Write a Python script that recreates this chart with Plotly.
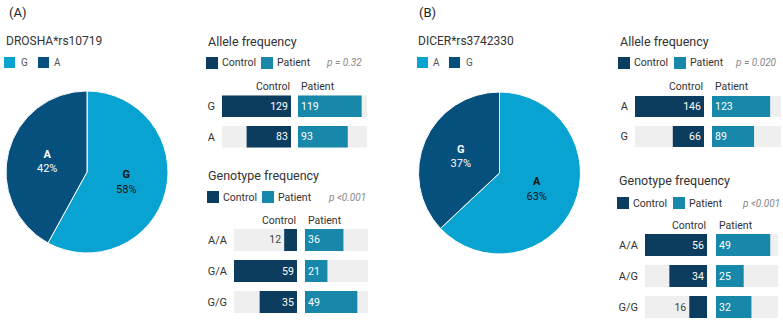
import plotly.graph_objects as go

# ---------------- data ----------------
left_pie_title = "DROSHA*rs10719"
left_pie_labels = ["G", "A"]
left_pie_values = [58, 42]

right_pie_title = "DICER*rs3742330"
right_pie_labels = ["A", "G"]
right_pie_values = [63, 37]

left_allele_cats = ["G", "A"]
left_allele_control = [129, 83]
left_allele_patient = [119, 93]
left_allele_p = "p = 0.32"

left_geno_cats = ["A/A", "G/A", "G/G"]
left_geno_control = [12, 59, 35]
left_geno_patient = [36, 21, 49]
left_geno_p = "p <0.001"

right_allele_cats = ["A", "G"]
right_allele_control = [146, 66]
right_allele_patient = [123, 89]
right_allele_p = "p = 0.020"

right_geno_cats = ["A/A", "A/G", "G/G"]
right_geno_control = [56, 34, 16]
right_geno_patient = [49, 25, 32]
right_geno_p = "p <0.001"

# ---------------- style ----------------
W, H = 783, 325
FONT = "Roboto"
CTRL = "#0d3d5e"
PAT = "#1787aa"
BG = "#efefef"
PIE_LIGHT = "#09a3d2"
PIE_DARK = "#06507d"
TXT = "#333333"


def fx(x):
    return x / W


def fy(y):
    return 1 - y / H


fig = go.Figure()
annotations = []
shapes = []


def ann(text, x, y, size=10, color=TXT, xanchor="left", italic=False, bold=False):
    t = text
    if bold:
        t = "<b>" + t + "</b>"
    if italic:
        t = "<i>" + t + "</i>"
    annotations.append(dict(text=t, x=fx(x), y=fy(y), xref="paper", yref="paper",
                            xanchor=xanchor, yanchor="middle", showarrow=False,
                            font=dict(family=FONT, size=size, color=color)))


def square(x0, y0, size, color):
    shapes.append(dict(type="rect", xref="paper", yref="paper",
                       x0=fx(x0), x1=fx(x0 + size), y0=fy(y0 + size), y1=fy(y0),
                       fillcolor=color, line=dict(width=0)))


# ---------------- pies ----------------
pies = [
    dict(labels=left_pie_labels, values=left_pie_values, cx=87, cy=172, r=81,
         colors=[PIE_LIGHT, PIE_DARK], tcolors=["#111111", "#ffffff"]),
    dict(labels=right_pie_labels, values=right_pie_values, cx=499.5, cy=173, r=81,
         colors=[PIE_LIGHT, PIE_DARK], tcolors=["#111111", "#ffffff"]),
]
for p in pies:
    fig.add_trace(go.Pie(
        labels=p["labels"], values=p["values"], sort=False, direction="clockwise",
        rotation=0,
        marker=dict(colors=p["colors"], line=dict(color="white", width=1)),
        texttemplate="<b>%{label}</b><br>%{percent:.0%}",
        textposition="inside", insidetextorientation="horizontal",
        textfont=dict(family=FONT, size=11, color=p["tcolors"]),
        domain=dict(x=[fx(p["cx"] - p["r"]), fx(p["cx"] + p["r"])],
                    y=[fy(p["cy"] + p["r"]), fy(p["cy"] - p["r"])]),
        showlegend=False, hoverinfo="label+percent",
    ))

# panel labels & pie titles & pie legends
ann("(A)", 7, 12, size=13, color="#222222")
ann("(B)", 417, 12, size=13, color="#222222")
ann(left_pie_title, 4, 41, size=12)
ann(right_pie_title, 416, 41, size=12)

square(4, 57, 11, PIE_LIGHT)
ann(left_pie_labels[0], 19, 62.5, size=10, color="#555555")
square(38, 57, 11, PIE_DARK)
ann(left_pie_labels[1], 52, 62.5, size=10, color="#555555")

square(417, 57, 11, PIE_LIGHT)
ann(right_pie_labels[0], 431, 62.5, size=10, color="#555555")
square(449, 57, 11, PIE_DARK)
ann(right_pie_labels[1], 464, 62.5, size=10, color="#555555")

# ---------------- bar panels ----------------
panels = [
    dict(title="Allele frequency", cats=left_allele_cats, ctrl=left_allele_control,
         pat=left_allele_patient, pval=left_allele_p,
         cxr=(222, 291), pxr=(298, 367), yr=(91, 152), width=0.7,
         tx=206, ty=41, ly=57, lc=206, lp=261, pright=364, hy=86),
    dict(title="Genotype frequency", cats=left_geno_cats, ctrl=left_geno_control,
         pat=left_geno_patient, pval=left_geno_p,
         cxr=(234, 297), pxr=(305, 368), yr=(224.5, 317.5), width=0.71,
         tx=206, ty=175, ly=191, lc=207, lp=262, pright=368, hy=220),
    dict(title="Allele frequency", cats=right_allele_cats, ctrl=right_allele_control,
         pat=right_allele_patient, pval=right_allele_p,
         cxr=(635, 704), pxr=(712, 781), yr=(91.5, 151.5), width=0.7,
         tx=618, ty=41, ly=57, lc=618, lp=674, pright=779, hy=86),
    dict(title="Genotype frequency", cats=right_geno_cats, ctrl=right_geno_control,
         pat=right_geno_patient, pval=right_geno_p,
         cxr=(645, 707), pxr=(716, 778), yr=(229.5, 322.5), width=0.71,
         tx=617, ty=180, ly=197, lc=617, lp=673, pright=782, hy=225),
]

layout_axes = {}
for i, p in enumerate(panels):
    nc = 2 * i + 1
    npat = 2 * i + 2
    xc = "x" if nc == 1 else f"x{nc}"
    yc = "y" if nc == 1 else f"y{nc}"
    xp = f"x{npat}"
    yp = f"y{npat}"
    vmax = max(max(p["ctrl"]), max(p["pat"]))
    n = len(p["cats"])
    w = p["width"]

    for vals, xa, ya, color, is_ctrl in [(p["ctrl"], xc, yc, CTRL, True),
                                         (p["pat"], xp, yp, PAT, False)]:
        fig.add_trace(go.Bar(y=p["cats"], x=[vmax] * n, orientation="h",
                             marker=dict(color=BG, line=dict(width=0)), width=w,
                             xaxis=xa, yaxis=ya, hoverinfo="skip", showlegend=False))
        pos = ["inside" if v >= 0.3 * vmax else "outside" for v in vals]
        fig.add_trace(go.Bar(
            y=p["cats"], x=vals, orientation="h",
            marker=dict(color=color, line=dict(width=0)), width=w,
            text=[str(v) for v in vals], textposition=pos,
            insidetextanchor="start", constraintext="none", cliponaxis=False,
            insidetextfont=dict(family=FONT, size=10.5, color="white"),
            outsidetextfont=dict(family=FONT, size=10.5, color="#444444"),
            xaxis=xa, yaxis=ya, showlegend=False,
            name="Control" if is_ctrl else "Patient",
        ))

    kx = "xaxis" if nc == 1 else f"xaxis{nc}"
    ky = "yaxis" if nc == 1 else f"yaxis{nc}"
    ydom = [fy(p["yr"][1]), fy(p["yr"][0])]
    layout_axes[kx] = dict(domain=[fx(p["cxr"][0]), fx(p["cxr"][1])], range=[vmax, 0],
                           anchor=yc, visible=False, fixedrange=True)
    layout_axes[ky] = dict(domain=ydom, anchor=xc, type="category",
                           categoryorder="array", categoryarray=p["cats"],
                           autorange="reversed", showgrid=False, zeroline=False,
                           showline=False, ticks="", ticklabelstandoff=6,
                           tickfont=dict(family=FONT, size=11, color="#333333"),
                           fixedrange=True)
    layout_axes[f"xaxis{npat}"] = dict(domain=[fx(p["pxr"][0]), fx(p["pxr"][1])],
                                       range=[0, vmax], anchor=yp, visible=False,
                                       fixedrange=True)
    layout_axes[f"yaxis{npat}"] = dict(domain=ydom, anchor=xp, type="category",
                                       categoryorder="array", categoryarray=p["cats"],
                                       autorange="reversed", visible=False,
                                       fixedrange=True)

    # title, legend, p-value, column headers
    ann(p["title"], p["tx"], p["ty"], size=12.5, color="#333333")
    square(p["lc"], p["ly"], 12, CTRL)
    ann("Control", p["lc"] + 14, p["ly"] + 6, size=10.5, color="#333333")
    square(p["lp"], p["ly"], 12, PAT)
    ann("Patient", p["lp"] + 14, p["ly"] + 6, size=10.5, color="#333333")
    ann(p["pval"], p["pright"], p["ly"] + 6, size=10, color="#888888",
        xanchor="right", italic=True)
    ann("Control", p["cxr"][1] + 1, p["hy"], size=10.5, color="#333333", xanchor="right")
    ann("Patient", p["pxr"][0] + 1, p["hy"], size=10.5, color="#333333")

fig.update_layout(
    width=W, height=H, margin=dict(l=0, r=0, t=0, b=0),
    paper_bgcolor="white", plot_bgcolor="white",
    barmode="overlay", showlegend=False,
    font=dict(family=FONT, color=TXT),
    annotations=annotations, shapes=shapes,
    **layout_axes,
)

fig.write_html(
    "out.html",
    config={"displayModeBar": False},
    post_script="document.body.style.margin='0';document.body.style.overflow='hidden';",
)
